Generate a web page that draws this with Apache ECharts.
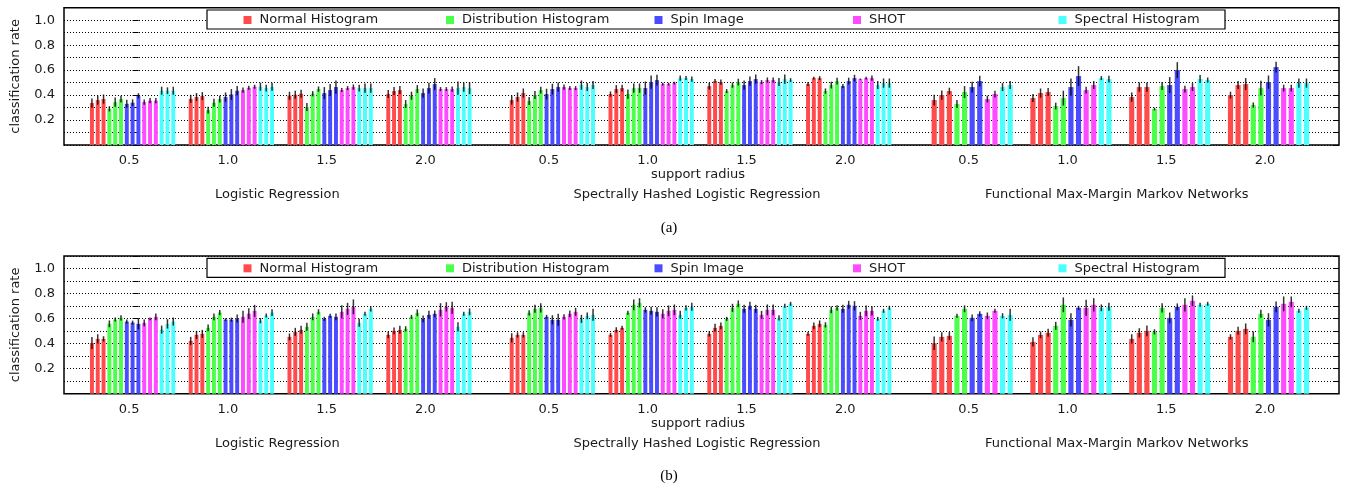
<!DOCTYPE html>
<html><head><meta charset="utf-8">
<script src="https://cdn.jsdelivr.net/npm/echarts@6/dist/echarts.min.js"></script>
<style>html,body{margin:0;padding:0;background:#fff}#c{width:1353px;height:491px}</style>
</head><body><div id="c"></div><script>
// ---------------- data ----------------
const radii = ['0.5', '1.0', '1.5', '2.0'];
const methods = ['Logistic Regression', 'Spectrally Hashed Logistic Regression', 'Functional Max-Margin Markov Networks'];
const descriptors = ['Normal Histogram', 'Distribution Histogram', 'Spin Image', 'SHOT', 'Spectral Histogram'];
const colors = ['#ff4b4b', '#4bff4b', '#4b4bff', '#ff4bff', '#4bffff'];

// panel (a): [radius][descriptor][variant]
const aLR = [
  [[0.336,0.360,0.368],[0.290,0.344,0.368],[0.330,0.339,0.394],[0.344,0.355,0.355],[0.435,0.435,0.435]],
  [[0.370,0.384,0.392],[0.280,0.339,0.368],[0.384,0.405,0.435],[0.440,0.458,0.467],[0.467,0.456,0.467]],
  [[0.395,0.403,0.411],[0.304,0.411,0.448],[0.416,0.440,0.464],[0.440,0.456,0.464],[0.456,0.456,0.456]],
  [[0.408,0.432,0.440],[0.328,0.395,0.448],[0.416,0.456,0.488],[0.448,0.448,0.448],[0.456,0.464,0.456]]
];
const aLRerr = [
  [[0.037,0.037,0.037],[0.021,0.037,0.027],[0.032,0.027,0.021],[0.021,0.021,0.021],[0.032,0.027,0.032]],
  [[0.032,0.032,0.032],[0.027,0.032,0.027],[0.037,0.043,0.037],[0.021,0.016,0.016],[0.032,0.027,0.032]],
  [[0.032,0.032,0.032],[0.032,0.021,0.021],[0.048,0.048,0.053],[0.016,0.016,0.021],[0.027,0.037,0.037]],
  [[0.032,0.032,0.032],[0.032,0.032,0.032],[0.037,0.043,0.048],[0.016,0.016,0.021],[0.053,0.037,0.048]]
];
const aSH = [
  [[0.360,0.384,0.416],[0.352,0.400,0.440],[0.408,0.448,0.464],[0.464,0.456,0.456],[0.480,0.464,0.480]],
  [[0.408,0.448,0.456],[0.408,0.456,0.456],[0.456,0.504,0.520],[0.488,0.488,0.496],[0.536,0.536,0.528]],
  [[0.472,0.512,0.504],[0.432,0.480,0.504],[0.480,0.512,0.528],[0.504,0.520,0.520],[0.504,0.528,0.520]],
  [[0.488,0.536,0.536],[0.432,0.480,0.512],[0.472,0.512,0.536],[0.528,0.536,0.536],[0.480,0.496,0.496]]
];
const aSHerr = [
  [[0.037,0.037,0.037],[0.032,0.032,0.027],[0.043,0.043,0.037],[0.021,0.016,0.016],[0.037,0.032,0.032]],
  [[0.021,0.032,0.027],[0.037,0.037,0.037],[0.053,0.053,0.043],[0.011,0.011,0.011],[0.021,0.016,0.021]],
  [[0.027,0.016,0.021],[0.016,0.021,0.027],[0.037,0.037,0.037],[0.016,0.021,0.021],[0.032,0.037,0.016]],
  [[0.016,0.011,0.016],[0.021,0.027,0.027],[0.016,0.027,0.027],[0.005,0.011,0.021],[0.032,0.037,0.037]]
];
const aFM = [
  [[0.360,0.400,0.432],[0.328,0.424],[0.464,0.512],[0.368,0.408],[0.464,0.480]],
  [[0.376,0.416,0.424],[0.312,0.376],[0.464,0.552],[0.440,0.480],[0.536,0.528]],
  [[0.384,0.464,0.464],[0.288,0.472],[0.480,0.600],[0.448,0.464],[0.528,0.520]],
  [[0.400,0.480,0.488],[0.320,0.456],[0.504,0.624],[0.456,0.456],[0.496,0.496]]
];
const aFMerr = [
  [[0.043,0.037,0.027],[0.032,0.048],[0.043,0.043],[0.027,0.027],[0.032,0.032]],
  [[0.032,0.037,0.032],[0.027,0.059],[0.069,0.080],[0.027,0.032],[0.016,0.027]],
  [[0.037,0.037,0.037],[0.011,0.032],[0.064,0.064],[0.027,0.032],[0.032,0.021]],
  [[0.027,0.032,0.048],[0.021,0.059],[0.053,0.043],[0.027,0.027],[0.037,0.037]]
];

// panel (b)
const bLR = [
  [[0.405,0.438,0.438],[0.558,0.592,0.606],[0.576,0.568,0.558],[0.566,0.598,0.614],[0.512,0.558,0.576]],
  [[0.422,0.470,0.478],[0.526,0.614,0.648],[0.592,0.592,0.600],[0.614,0.640,0.662],[0.584,0.624,0.648]],
  [[0.454,0.494,0.510],[0.534,0.614,0.654],[0.598,0.622,0.614],[0.654,0.678,0.694],[0.566,0.638,0.678]],
  [[0.470,0.502,0.510],[0.518,0.614,0.646],[0.598,0.630,0.638],[0.670,0.694,0.686],[0.534,0.638,0.654]]
];
const bLRerr = [
  [[0.048,0.037,0.021],[0.027,0.016,0.021],[0.016,0.016,0.043],[0.027,0.011,0.027],[0.032,0.037,0.032]],
  [[0.032,0.032,0.032],[0.027,0.027,0.021],[0.011,0.016,0.032],[0.048,0.043,0.048],[0.021,0.016,0.027]],
  [[0.027,0.032,0.032],[0.032,0.027,0.021],[0.016,0.016,0.027],[0.053,0.048,0.059],[0.032,0.016,0.021]],
  [[0.027,0.027,0.032],[0.021,0.016,0.027],[0.027,0.032,0.027],[0.053,0.037,0.048],[0.037,0.016,0.027]]
];
const bSH = [
  [[0.446,0.470,0.470],[0.646,0.678,0.686],[0.614,0.590,0.590],[0.614,0.638,0.654],[0.598,0.622,0.630]],
  [[0.470,0.510,0.526],[0.646,0.710,0.726],[0.670,0.662,0.654],[0.638,0.662,0.670],[0.630,0.686,0.694]],
  [[0.478,0.526,0.542],[0.598,0.686,0.718],[0.678,0.702,0.678],[0.630,0.670,0.670],[0.606,0.702,0.718]],
  [[0.478,0.542,0.558],[0.550,0.670,0.686],[0.678,0.710,0.702],[0.622,0.662,0.662],[0.598,0.662,0.686]]
];
const bSHerr = [
  [[0.037,0.021,0.021],[0.021,0.032,0.037],[0.016,0.037,0.048],[0.021,0.027,0.032],[0.032,0.027,0.048]],
  [[0.016,0.021,0.016],[0.016,0.043,0.037],[0.021,0.032,0.037],[0.037,0.043,0.043],[0.032,0.021,0.032]],
  [[0.021,0.032,0.027],[0.016,0.032,0.027],[0.032,0.032,0.032],[0.032,0.043,0.043],[0.021,0.016,0.016]],
  [[0.016,0.027,0.027],[0.021,0.027,0.021],[0.032,0.032,0.037],[0.032,0.043,0.037],[0.016,0.016,0.016]]
];
const bFM = [
  [[0.403,0.454,0.462],[0.622,0.678],[0.606,0.638],[0.622,0.662],[0.622,0.630]],
  [[0.414,0.470,0.486],[0.542,0.710],[0.590,0.686],[0.686,0.710],[0.686,0.694]],
  [[0.438,0.486,0.502],[0.494,0.686],[0.606,0.694],[0.710,0.742],[0.710,0.718]],
  [[0.454,0.502,0.518],[0.454,0.638],[0.590,0.694],[0.718,0.734],[0.662,0.686]]
];
const bFMerr = [
  [[0.053,0.037,0.032],[0.016,0.027],[0.027,0.021],[0.027,0.016],[0.021,0.048]],
  [[0.037,0.027,0.032],[0.032,0.059],[0.053,0.016],[0.064,0.053],[0.027,0.032]],
  [[0.037,0.037,0.043],[0.021,0.037],[0.043,0.027],[0.053,0.043],[0.016,0.016]],
  [[0.021,0.032,0.043],[0.043,0.032],[0.053,0.043],[0.059,0.043],[0.016,0.016]]
];

// ---------------- layout ----------------
const FONT = '"DejaVu Sans", sans-serif';
const TXT = '#1a1a1a';
const methodOffset = [0, 4.25, 8.5];
const xMin = -0.6945, xMax = 12.214;
const labelShift = 0.035;
const panels = [
  {vals: [aLR, aSH, aFM], errs: [aLRerr, aSHerr, aFMerr], top: 7.7, bottom: 346, legendTop: 13.5, boxY: 10, tag: '(a)', tagY: 228},
  {vals: [bLR, bSH, bFM], errs: [bLRerr, bSHerr, bFMerr], top: 256, bottom: 97.3, legendTop: 261.8, boxY: 258.3, tag: '(b)', tagY: 476}
];
const legendIconLeft = [243.5, 446, 654.5, 853, 1058.5];

const grids = [], xAxes = [], yAxes = [], series = [], legends = [], graphics = [];

function renderBar(params, api) {
  const x = api.value(0), v = api.value(1), e = api.value(2), w = api.value(3);
  const tl = api.coord([x - w / 2, v]);
  const br = api.coord([x + w / 2, 0]);
  const hi = api.coord([x, v + e]);
  const lo = api.coord([x, v - e]);
  return {
    type: 'group',
    children: [
      {type: 'rect', shape: {x: tl[0], y: tl[1], width: br[0] - tl[0], height: br[1] - tl[1]},
       style: {fill: api.visual('color')}},
      {type: 'line', shape: {x1: hi[0], y1: hi[1], x2: lo[0], y2: lo[1]},
       style: {stroke: '#000', lineWidth: 1.5, opacity: 0.8}}
    ]
  };
}

panels.forEach((P, p) => {
  grids.push({left: 64, right: 14, top: P.top, bottom: P.bottom, show: true,
    borderColor: '#000', borderWidth: 1.5, backgroundColor: 'transparent'});
  xAxes.push({gridIndex: p, type: 'value', min: xMin, max: xMax,
    axisLine: {show: false}, axisTick: {show: false}, axisLabel: {show: false}, splitLine: {show: false},
    name: 'support radius', nameLocation: 'middle', nameGap: 23,
    nameTextStyle: {fontFamily: FONT, fontSize: 13, color: TXT, padding: [0, 7, 0, 0]}});
  yAxes.push({gridIndex: p, type: 'value', min: 0, max: 1.1, interval: 0.1, position: 'left',
    axisLine: {show: false},
    axisTick: {show: true, inside: true, length: 6, lineStyle: {color: '#000', width: 1}},
    axisLabel: {fontFamily: FONT, fontSize: 13, color: TXT, margin: 9,
      formatter: v => { const k = Math.round(v * 10); return (k % 2 === 0 && k >= 2 && k <= 10) ? (k / 10).toFixed(1) : ''; }},
    splitLine: {show: true, lineStyle: {color: '#000', width: 1, type: [1, 2]}},
    name: 'classification rate', nameLocation: 'middle', nameGap: 42,
    nameTextStyle: {fontFamily: FONT, fontSize: 13, color: TXT}});
  yAxes.push({gridIndex: p, type: 'value', min: 0, max: 1.1, interval: 0.1, position: 'right',
    axisLine: {show: false},
    axisTick: {show: true, inside: true, length: 6, lineStyle: {color: '#000', width: 1}},
    axisLabel: {show: false}, splitLine: {show: false}});

  descriptors.forEach((dName, d) => {
    const data = [];
    P.vals.forEach((V, m) => {
      V.forEach((groupVals, r) => {
        const counts = groupVals.map(a => a.length);
        const n = counts.reduce((s, c) => s + c, 0);
        const slot = 1 / (n + 2);
        const start = counts.slice(0, d).reduce((s, c) => s + c, 0);
        const gp = methodOffset[m] + r;
        groupVals[d].forEach((val, k) => {
          const i = start + k;
          data.push([gp + (i - (n - 1) / 2) * slot, val, P.errs[m][r][d][k], slot * 0.68]);
        });
      });
    });
    series.push({type: 'custom', name: dName, xAxisIndex: p, yAxisIndex: p * 2,
      itemStyle: {color: colors[d]}, renderItem: renderBar, encode: {x: 0, y: 1}, data: data, z: 2});
  });

  // category and method texts under the axis
  const texts = [];
  methods.forEach((mName, m) => {
    radii.forEach((rName, r) => texts.push({x: methodOffset[m] + r - labelShift, text: rName, dy: 15.5}));
    texts.push({x: methodOffset[m] + 1.5 - labelShift, text: mName, dy: 50});
  });
  series.push({type: 'custom', xAxisIndex: p, yAxisIndex: p * 2, silent: true, clip: false,
    data: texts.map(t => [t.x, 0]), encode: {x: 0, y: 1},
    renderItem: (params, api) => {
      const t = texts[params.dataIndex];
      const pt = api.coord([api.value(0), 0]);
      return {type: 'text', x: pt[0], y: pt[1] + t.dy,
        style: {text: t.text, fill: TXT, font: '13px ' + FONT, textAlign: 'center', textVerticalAlign: 'middle'}};
    }});

  descriptors.forEach((dName, d) => {
    legends.push({data: [dName], left: legendIconLeft[d], top: P.legendTop, orient: 'horizontal',
      icon: 'rect', itemWidth: 8, itemHeight: 8, padding: 0, selectedMode: false, z: 6,
      textStyle: {fontFamily: FONT, fontSize: 13, color: TXT, padding: [0, 0, 0, 3]}});
  });
  graphics.push({type: 'rect', shape: {x: 207, y: P.boxY, width: 1018, height: 19},
    style: {fill: '#fff', stroke: '#000', lineWidth: 1.2}, z: 4});
  graphics.push({type: 'text', x: 669, y: P.tagY,
    style: {text: P.tag, fill: '#000', font: '15px "Liberation Serif", serif', textAlign: 'center', textVerticalAlign: 'middle'}, z: 4});
});

const chart = echarts.init(document.getElementById('c'), null, {renderer: 'canvas'});
chart.setOption({
  animation: false,
  backgroundColor: '#fff',
  grid: grids, xAxis: xAxes, yAxis: yAxes, series: series, legend: legends,
  graphic: {elements: graphics}
});
</script></body></html>
